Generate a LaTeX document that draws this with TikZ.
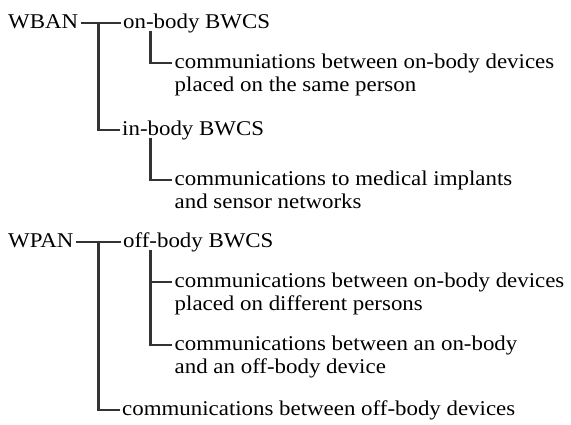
\documentclass[tikz,border=0pt]{standalone}
\usepackage{fontspec}
\setmainfont{Liberation Serif}[FakeStretch=1.09]
\usetikzlibrary{calc}
\begin{document}
\fontsize{21}{23.5}\selectfont
\begin{tikzpicture}[x=1pt,y=-1pt,
  lbl/.style={anchor=base west,inner xsep=2.5pt,inner ysep=0pt,text=black},
  tree/.style={line width=2.2pt,draw=black!80,line cap=butt,line join=miter}]
\useasboundingbox (0,0) rectangle (571,424);
\coordinate (xa) at (98.5,0);
\coordinate (xb) at (150.5,0);
% WBAN
\node[lbl] (wban) at (5.5,28) {WBAN};
\node[lbl] (onbody) at (120.5,28) {on-body BWCS};
\node[lbl] (c1) at (172,68) {communiations between on-body devices};
\node[lbl] (c1b) at ($(c1.base west)+(0,23.5)$) {placed on the same person};
\node[lbl] (inbody) at (119.5,135) {in-body BWCS};
\node[lbl] (c2) at (172,185) {communications to medical implants};
\node[lbl] (c2b) at ($(c2.base west)+(0,23.5)$) {and sensor networks};
% WPAN
\node[lbl] (wpan) at (5.5,247) {WPAN};
\node[lbl] (offbody) at (120.5,247) {off-body BWCS};
\node[lbl] (c3) at (172,287) {communications between on-body devices};
\node[lbl] (c3b) at ($(c3.base west)+(0,23.5)$) {placed on different persons};
\node[lbl] (c4) at (172,350) {communications between an on-body};
\node[lbl] (c4b) at ($(c4.base west)+(0,23.5)$) {and an off-body device};
\node[lbl] (c5) at (119.5,415) {communications between off-body devices};
% branch start points just below the parent labels
\coordinate (s1) at ($(onbody.base -| xb)+(0,2.5)$);
\coordinate (s2) at ($(inbody.base -| xb)+(0,2.5)$);
\coordinate (s3) at ($(offbody.base -| xb)+(0,2.5)$);
% tree lines WBAN
\coordinate (j1) at (wban.mid -| xa);
\draw[tree] (wban.mid east) -- (onbody.mid west);
\draw[tree] (j1) |- (inbody.mid west);
\draw[tree] (s1) |- (c1.mid west);
\draw[tree] (s2) |- (c2.mid west);
% tree lines WPAN
\coordinate (j2) at (wpan.mid -| xa);
\draw[tree] (wpan.mid east) -- (offbody.mid west);
\draw[tree] (j2) |- (c5.mid west);
\draw[tree] (s3) |- (c4.mid west);
\draw[tree] (c3.mid west -| xb) -- (c3.mid west);
\end{tikzpicture}
\end{document}
